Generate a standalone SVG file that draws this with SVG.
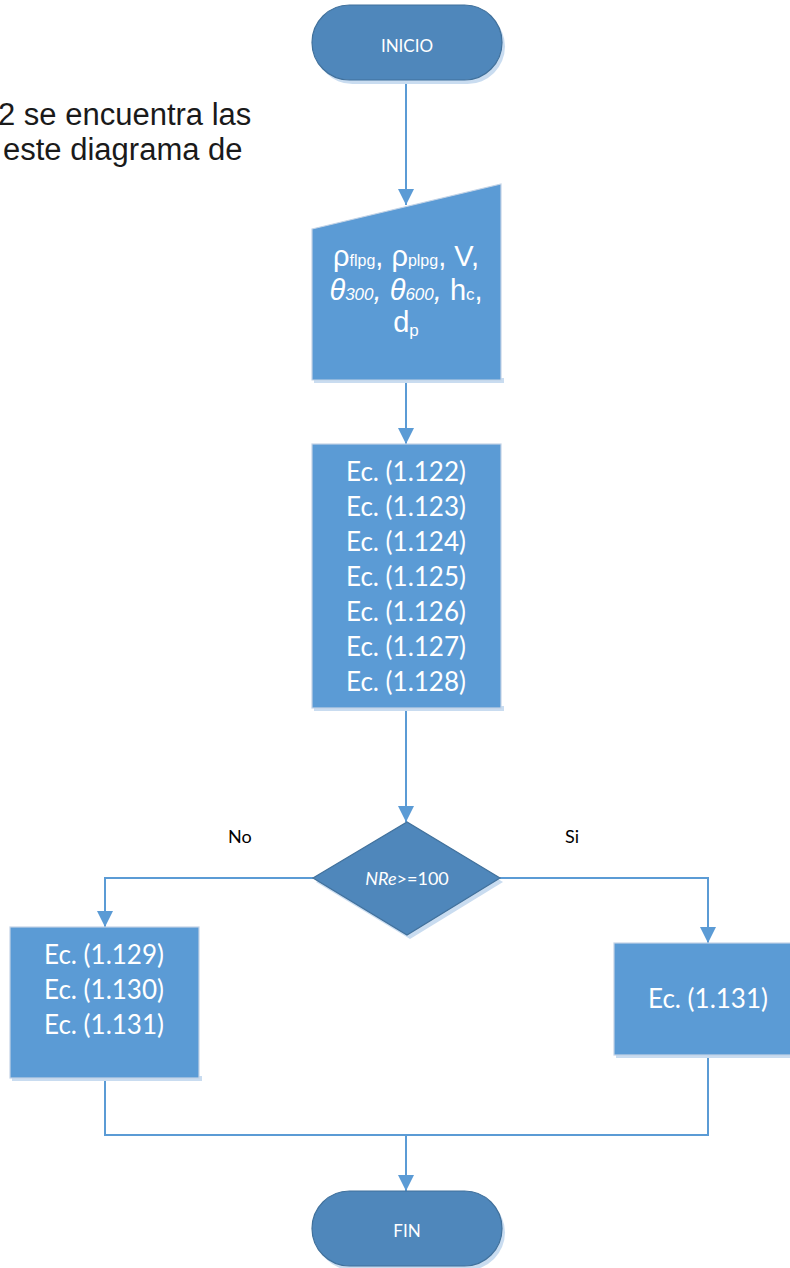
<svg xmlns="http://www.w3.org/2000/svg" width="790" height="1268" viewBox="0 0 790 1268">
  <style>
    .term { fill: #4f87bb; stroke: #41719c; stroke-width: 1.2; }
    .proc { fill: #5b9bd5; stroke: #c3d3e6; stroke-width: 1.2; }
    .dec { fill: #4f87bb; stroke: #41719c; stroke-width: 1.2; }
    .shadow { fill: #c9dcf0; }
    .wire { fill: none; stroke: #5b9bd5; stroke-width: 2; }
    .lbl { font-family: Lato, "Open Sans", sans-serif; fill: #ffffff; text-anchor: middle; }
    .eq { font-family: Lato, "Open Sans", sans-serif; font-size: 26px; fill: #ffffff; text-anchor: middle; }
    .sym { font-family: "Liberation Sans", Arial, sans-serif; font-size: 29px; fill: #ffffff; text-anchor: middle; }
    .branch { font-family: Lato, "Open Sans", sans-serif; font-size: 18px; fill: #000000; }
    .note { font-family: "Liberation Sans", Arial, sans-serif; font-size: 31px; fill: #1a1a1a; }
  </style>
  <defs>
    <marker id="arrow" viewBox="0 0 16 16" refX="16" refY="8" markerWidth="16" markerHeight="16" markerUnits="userSpaceOnUse" orient="auto">
      <path d="M0,0 L16,8 L0,16 Z" fill="#5b9bd5"/>
    </marker>
  </defs>

  <rect width="790" height="1268" fill="#ffffff"/>

  <!-- surrounding document text -->
  <text class="note" x="-2" y="125">2 se encuentra las</text>
  <text class="note" x="3" y="160">este diagrama de</text>

  <!-- connectors -->
  <g id="connectors">
    <path class="wire" d="M406,80 V205" marker-end="url(#arrow)"/>
    <path class="wire" d="M406,380 V444" marker-end="url(#arrow)"/>
    <path class="wire" d="M406,708 V822" marker-end="url(#arrow)"/>
    <path class="wire" d="M313,878 H105 V927" marker-end="url(#arrow)"/>
    <path class="wire" d="M500,878 H708 V943" marker-end="url(#arrow)"/>
    <path class="wire" d="M105,1078 V1135 H708 V1055"/>
    <path class="wire" d="M406,1135 V1191" marker-end="url(#arrow)"/>
  </g>

  <!-- start -->
  <g id="inicio">
    <rect class="shadow" x="315" y="9" width="190" height="75" rx="37.5"/>
    <rect class="term" x="312" y="5" width="190" height="75" rx="37.5"/>
    <text class="lbl" x="407" y="52" font-size="17">INICIO</text>
  </g>

  <!-- input data -->
  <g id="entrada">
    <rect class="shadow" x="314" y="378" width="190" height="5"/>
    <path class="proc" d="M312,229 L501,184 L501,380 L312,380 Z"/>
    <text class="sym" x="406" y="266">ρ<tspan font-size="16">flpg</tspan>, ρ<tspan font-size="16">plpg</tspan>, V,</text>
    <text class="sym" x="406" y="300"><tspan font-style="italic">θ</tspan><tspan font-size="17" font-style="italic">300</tspan><tspan font-style="italic">,</tspan> <tspan font-style="italic">θ</tspan><tspan font-size="17" font-style="italic">600</tspan><tspan font-style="italic">,</tspan> h<tspan font-size="17">c</tspan>,</text>
    <text class="sym" x="406" y="332">d<tspan font-size="17" dy="4">p</tspan></text>
  </g>

  <!-- equations block -->
  <g id="calculos">
    <rect class="shadow" x="314" y="706" width="190" height="5"/>
    <rect class="proc" x="312" y="444" width="189" height="264"/>
    <text class="eq" x="406" y="481">Ec. (1.122)</text>
    <text class="eq" x="406" y="516">Ec. (1.123)</text>
    <text class="eq" x="406" y="551">Ec. (1.124)</text>
    <text class="eq" x="406" y="586">Ec. (1.125)</text>
    <text class="eq" x="406" y="621">Ec. (1.126)</text>
    <text class="eq" x="406" y="656">Ec. (1.127)</text>
    <text class="eq" x="406" y="691">Ec. (1.128)</text>
  </g>

  <!-- decision -->
  <g id="decision">
    <path class="shadow" d="M316,882 L410,826 L503,882 L410,939 Z"/>
    <path class="dec" d="M313,878 L407,822 L500,878 L407,935 Z"/>
    <text class="lbl" x="407" y="885" font-size="18"><tspan font-style="italic">NRe</tspan>&gt;=100</text>
  </g>
  <text class="branch" x="228" y="843">No</text>
  <text class="branch" x="565" y="843">Si</text>

  <!-- NRe < 100 -->
  <g id="rama-no">
    <rect class="shadow" x="12" y="1076" width="190" height="5"/>
    <rect class="proc" x="10" y="927" width="189" height="151"/>
    <text class="eq" x="104" y="964">Ec. (1.129)</text>
    <text class="eq" x="104" y="999">Ec. (1.130)</text>
    <text class="eq" x="104" y="1034">Ec. (1.131)</text>
  </g>

  <!-- NRe >= 100 -->
  <g id="rama-si">
    <rect class="shadow" x="616" y="1053" width="190" height="5"/>
    <rect class="proc" x="614" y="943" width="189" height="112"/>
    <text class="eq" x="708" y="1008">Ec. (1.131)</text>
  </g>

  <!-- end -->
  <g id="fin">
    <rect class="shadow" x="315" y="1195" width="190" height="75" rx="37.5"/>
    <rect class="term" x="312" y="1191" width="190" height="75" rx="37.5"/>
    <text class="lbl" x="407" y="1237" font-size="17">FIN</text>
  </g>
</svg>
